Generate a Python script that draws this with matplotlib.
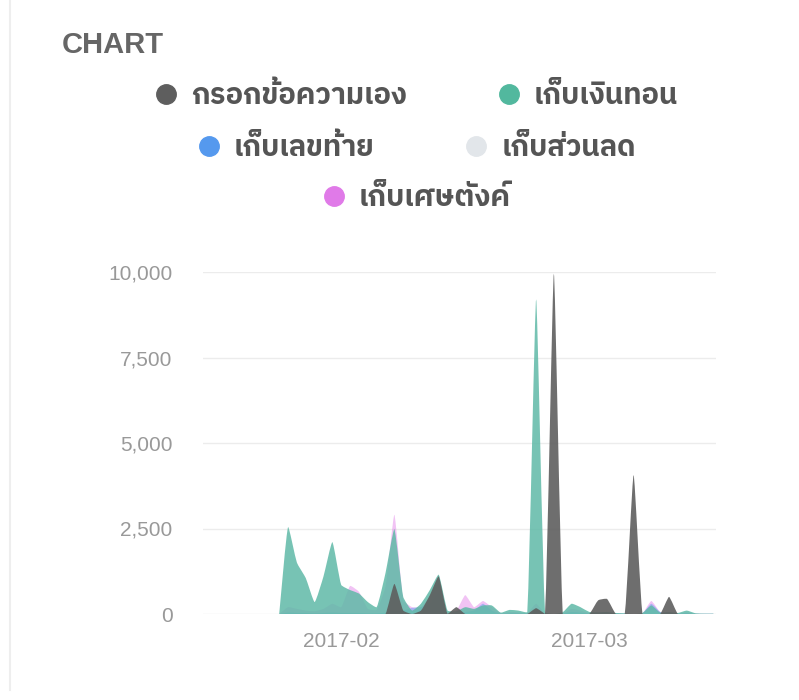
import numpy as np
import pandas as pd
import matplotlib
matplotlib.use("Agg")
import matplotlib.pyplot as plt
import matplotlib.dates as mdates
from matplotlib import font_manager
from matplotlib.ft2font import FT2Font
from matplotlib.lines import Line2D
from matplotlib.path import Path
from matplotlib.patches import PathPatch
from matplotlib.ticker import FuncFormatter, MultipleLocator

# daily values, 2017-01-25 .. 2017-03-15 (rows: Jan 25-31, then 10 days each)
dates = pd.date_range("2017-01-25", "2017-03-15", freq="D")

manual = [0, 0, 0, 0, 0, 0, 0,
          0, 0, 0, 0, 0, 0, 880, 100, 0, 100,
          550, 1100, 0, 200, 0, 0, 0, 0, 0, 0,
          0, 0, 170, 0, 9950, 0, 0, 0, 0, 400,
          440, 0, 0, 4060, 0, 0, 0, 500, 0, 0,
          0, 0, 0]
change = [0, 2540, 1500, 1050, 350, 1100, 2100,
          850, 700, 600, 350, 200, 1200, 2480, 500, 100, 300,
          700, 1150, 100, 80, 200, 150, 250, 250, 40, 120,
          100, 60, 9200, 60, 0, 50, 300, 200, 60, 50,
          60, 30, 20, 0, 30, 250, 40, 60, 30, 100,
          20, 10, 10]
last_digits = [0, 40, 30, 30, 20, 30, 40,
               30, 30, 30, 20, 20, 40, 80, 100, 180, 200,
               300, 600, 20, 20, 60, 100, 300, 100, 10, 20,
               20, 10, 60, 10, 0, 10, 60, 40, 10, 10,
               10, 10, 5, 0, 10, 300, 60, 20, 10, 30,
               5, 5, 5]
discount = [0, 30, 20, 20, 10, 20, 30,
            20, 20, 20, 10, 10, 30, 60, 50, 80, 80,
            100, 200, 10, 10, 30, 60, 120, 60, 5, 10,
            10, 10, 50, 5, 0, 5, 40, 30, 10, 5,
            10, 5, 5, 0, 5, 120, 30, 10, 5, 20,
            5, 5, 5]
coins = [0, 200, 150, 100, 80, 150, 300,
         200, 820, 650, 150, 120, 800, 2900, 400, 200, 200,
         500, 900, 60, 100, 550, 200, 380, 200, 30, 60,
         50, 30, 300, 20, 0, 20, 150, 100, 30, 20,
         30, 20, 10, 0, 20, 380, 60, 30, 20, 50,
         10, 5, 5]

labels = ["กรอกข้อความเอง", "เก็บเงินทอน", "เก็บเลขท้าย", "เก็บส่วนลด", "เก็บเศษตังค์"]
series = [manual, change, last_digits, discount, coins]
colors = ["#5e5e5e", "#5fb9a7", "#5599ee", "#e2e6ea", "#e07ae8"]
alphas = [0.9, 0.85, 0.45, 0.6, 0.45]
legend_colors = ["#5e5e5e", "#52b89e", "#5599ee", "#e2e6ea", "#e07ae8"]


def find_thai_font():
    found = []
    for f in font_manager.fontManager.ttflist:
        try:
            cmap = FT2Font(f.fname).get_charmap()
        except Exception:
            continue
        if 0x0E01 in cmap and 0x0E40 in cmap:
            found.append(f.name)
    if not found:
        return None
    for name in found:
        if "Thai" in name:
            return name
    return found[0]


thai = find_thai_font()
latin = ["Liberation Sans", "DejaVu Sans"]
fams = latin + [thai] if thai else latin
plt.rcParams["font.family"] = fams
thai_fams = [thai] + latin if thai else latin


def spline_patch(ax, xs, ys, color, alpha, tension=0.15):
    # chart.js style bezier through the points, built in pixel space
    pts = ax.transData.transform(np.column_stack([xs, ys]))
    n = len(pts)
    cprev, cnext = [], []
    for i in range(n):
        prev = pts[max(i - 1, 0)]
        cur = pts[i]
        nxt = pts[min(i + 1, n - 1)]
        d01 = np.hypot(*(cur - prev))
        d12 = np.hypot(*(nxt - cur))
        tot = d01 + d12
        s01 = d01 / tot if tot else 0
        s12 = d12 / tot if tot else 0
        cprev.append(cur - tension * s01 * (nxt - prev))
        cnext.append(cur + tension * s12 * (nxt - prev))
    inv = ax.transData.inverted()
    ytop = ax.get_ylim()[1]

    def back(p):
        x, y = inv.transform(p)
        return (x, min(max(y, 0), ytop))

    verts = [(xs[0], 0), (xs[0], ys[0])]
    codes = [Path.MOVETO, Path.LINETO]
    for i in range(n - 1):
        verts += [back(cnext[i]), back(cprev[i + 1]), (xs[i + 1], ys[i + 1])]
        codes += [Path.CURVE4] * 3
    verts += [(xs[-1], 0), (xs[0], 0)]
    codes += [Path.LINETO, Path.CLOSEPOLY]
    patch = PathPatch(Path(verts, codes), facecolor=color, alpha=alpha,
                      edgecolor="none", zorder=2)
    ax.add_patch(patch)


fig = plt.figure(figsize=(7.99, 7.0), dpi=100)
ax = fig.add_axes([203 / 799, 86 / 700, 513 / 799, 342 / 700])

xnum = mdates.date2num(dates)
feb1 = mdates.date2num(pd.Timestamp("2017-02-01"))
ax.set_xlim(feb1 - 15.6, feb1 + 42.3)
ax.set_ylim(0, 10000)

# bottom series first so the first legend item sits on top
for i in reversed(range(len(series))):
    spline_patch(ax, xnum, np.array(series[i], dtype=float), colors[i], alphas[i])

ax.yaxis.set_major_locator(MultipleLocator(2500))
ax.yaxis.set_major_formatter(FuncFormatter(lambda v, p: f"{v:,.0f}"))
ax.xaxis.set_major_locator(mdates.MonthLocator())
ax.xaxis.set_major_formatter(mdates.DateFormatter("%Y-%m"))
ax.grid(axis="y", color="#ececec", linewidth=1)
ax.set_axisbelow(True)
for s in ax.spines.values():
    s.set_visible(False)
ax.tick_params(axis="both", length=0, labelsize=15, labelcolor="#999999")
ax.tick_params(axis="y", pad=22)
ax.tick_params(axis="x", pad=13)

fig.text(62 / 799, 1 - 45 / 700, "CHART", fontsize=21, fontweight="bold",
         color="#666666", va="center", ha="left")

# legend laid out in centred rows like the original
rows = [[0, 1], [2, 3], [4]]
row_y = [96, 148, 198]
for r, yy in zip(rows, row_y):
    handles = [Line2D([], [], linestyle="", marker="o", markersize=14,
                      markerfacecolor=legend_colors[k],
                      markeredgecolor=legend_colors[k])
               for k in r]
    fig.legend(handles, [labels[k] for k in r], loc="center",
               bbox_to_anchor=(415 / 799, 1 - yy / 700), ncol=len(r),
               frameon=False, handletextpad=0.35, columnspacing=3.0,
               handlelength=1.0, labelcolor="#555555",
               prop={"family": thai_fams, "size": 21, "weight": "bold"})

fig.add_artist(Line2D([10 / 799, 10 / 799], [0.015, 1.0], color="#eeeeee",
                      linewidth=1.5, transform=fig.transFigure))

fig.savefig("out.png", dpi=100)
